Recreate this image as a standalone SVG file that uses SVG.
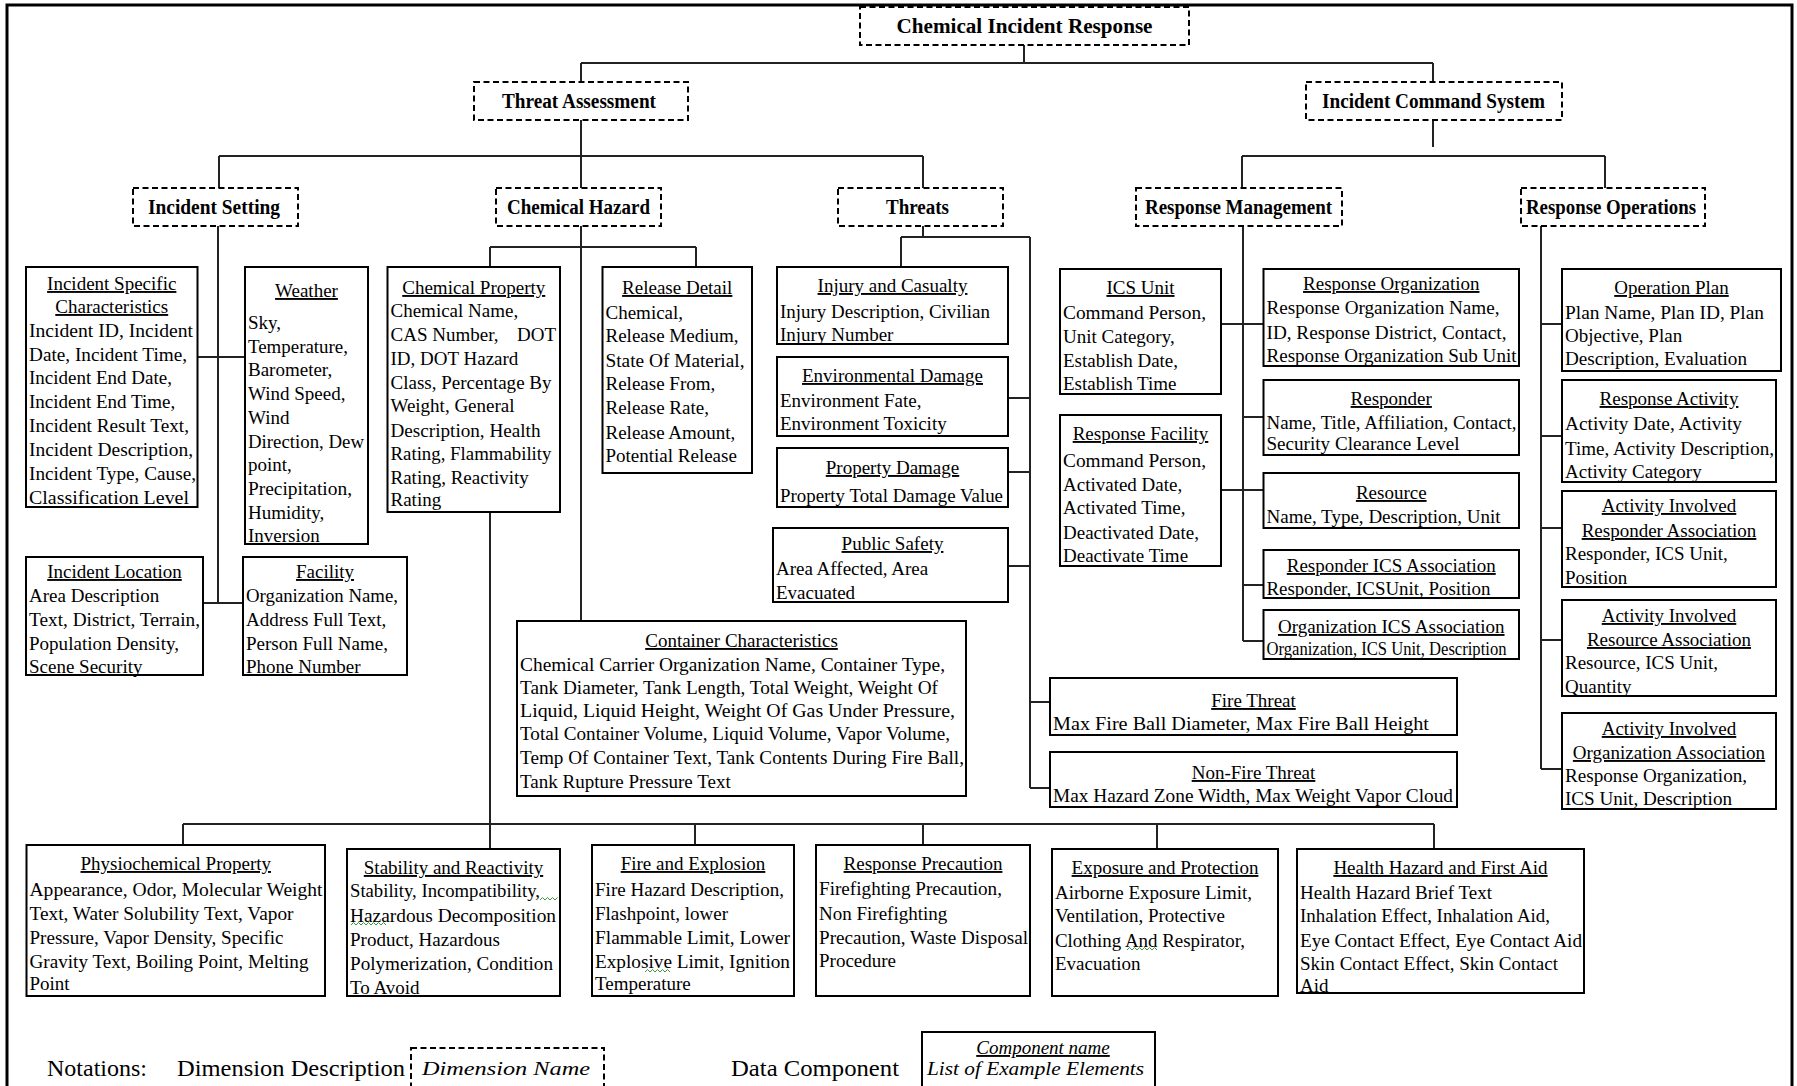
<svg xmlns="http://www.w3.org/2000/svg" width="1797" height="1086" viewBox="0 0 1797 1086">
<style>
text{font-family:"Liberation Serif","Times New Roman",serif;font-size:19px;fill:#000}
.box{fill:#fff;stroke:#000;stroke-width:2}
.dbox{fill:#fff;stroke:#000;stroke-width:2;stroke-dasharray:6 3.5}
.dt{font-weight:bold;text-anchor:middle;font-size:20px}
.h{text-anchor:middle;text-decoration:underline}
.lg{font-size:24px}
.it{font-style:italic}
.con{fill:none;stroke:#222;stroke-width:2}
.sq{fill:none;stroke:#3a9a3a;stroke-width:1}
</style>
<rect x="0" y="0" width="1797" height="1086" fill="#fff"/>
<rect x="7" y="5" width="1785" height="1100" fill="none" stroke="#000" stroke-width="3"/>

<g id="connectors">
<path class="con" d="M1024,45V63M581,63H1433M581,63V82M1433,63V82
M581,120V156M219,156H923M219,156V188M581,156V188M923,156V188
M1433,120V147M1242,156H1605M1242,156V188M1605,156V188
M218,226V603M197.5,357H245M203,603H243
M581,226V621M490,247H696M490,247V267M696,247V267
M490,512V849M183,824H1434M183,824V845M695,824V845M923,824V845M1157,824V849M1434,824V849
M923,226V237M901,237H1030M901,237V267M1030,237V788M1008,398H1030M1008,472H1030M1008,566H1030M1030,702H1050M1030,788H1050
M1243,226V641M1221,324H1263.5M1243,417H1263.5M1221,490H1263.5M1243,585H1264M1243,641H1264
M1541,226V769M1541,324H1562M1541,436H1562M1541,528H1562M1541,640H1562M1541,769H1562"/>
</g>

<g id="chemical-incident-response"><rect class="dbox" x="860" y="7" width="329" height="38"/><text class="dt" x="1024.5" y="33" textLength="256" lengthAdjust="spacingAndGlyphs">Chemical Incident Response</text></g>
<g id="threat-assessment"><rect class="dbox" x="474" y="82" width="214" height="38"/><text class="dt" x="579" y="108" textLength="154" lengthAdjust="spacingAndGlyphs">Threat Assessment</text></g>
<g id="incident-command-system"><rect class="dbox" x="1306" y="82" width="256" height="38"/><text class="dt" x="1433.5" y="108" textLength="223" lengthAdjust="spacingAndGlyphs">Incident Command System</text></g>
<g id="incident-setting"><rect class="dbox" x="133" y="188" width="165" height="38"/><text class="dt" x="214" y="214" textLength="132" lengthAdjust="spacingAndGlyphs">Incident Setting</text></g>
<g id="chemical-hazard"><rect class="dbox" x="496" y="188" width="165" height="38"/><text class="dt" x="578.5" y="214" textLength="143" lengthAdjust="spacingAndGlyphs">Chemical Hazard</text></g>
<g id="threats"><rect class="dbox" x="838" y="188" width="165" height="38"/><text class="dt" x="917.5" y="214" textLength="63" lengthAdjust="spacingAndGlyphs">Threats</text></g>
<g id="response-management"><rect class="dbox" x="1136" y="188" width="206" height="38"/><text class="dt" x="1238.5" y="214" textLength="187" lengthAdjust="spacingAndGlyphs">Response Management</text></g>
<g id="response-operations"><rect class="dbox" x="1521" y="188" width="184" height="38"/><text class="dt" x="1611" y="214" textLength="170" lengthAdjust="spacingAndGlyphs">Response Operations</text></g>

<g id="incident-specific-characteristics"><rect class="box" x="26" y="267" width="171.5" height="240"/>
<text class="h" x="111.75" y="290">Incident Specific</text><text class="h" x="111.75" y="313">Characteristics</text>
<text x="29" y="337" textLength="164" lengthAdjust="spacingAndGlyphs">Incident ID, Incident</text><text x="29" y="361" textLength="158" lengthAdjust="spacingAndGlyphs">Date, Incident Time,</text><text x="29" y="384">Incident End Date,</text><text x="29" y="408">Incident End Time,</text><text x="29" y="432" textLength="160" lengthAdjust="spacingAndGlyphs">Incident Result Text,</text><text x="29" y="456" textLength="164" lengthAdjust="spacingAndGlyphs">Incident Description,</text><text x="29" y="480" textLength="167" lengthAdjust="spacingAndGlyphs">Incident Type, Cause,</text><text x="29" y="504" textLength="160" lengthAdjust="spacingAndGlyphs">Classification Level</text></g>

<g id="weather"><rect class="box" x="245" y="267" width="123" height="277"/>
<text class="h" x="306.5" y="297">Weather</text>
<text x="248" y="329">Sky,</text><text x="248" y="352.7" textLength="100" lengthAdjust="spacingAndGlyphs">Temperature,</text><text x="248" y="376.4">Barometer,</text><text x="248" y="400">Wind Speed,</text><text x="248" y="423.8">Wind</text><text x="248" y="447.5" textLength="116" lengthAdjust="spacingAndGlyphs">Direction, Dew</text><text x="248" y="471">point,</text><text x="248" y="495" textLength="104" lengthAdjust="spacingAndGlyphs">Precipitation,</text><text x="248" y="518.6">Humidity,</text><text x="248" y="542">Inversion</text></g>

<g id="incident-location"><rect class="box" x="26" y="557" width="177" height="118"/>
<text class="h" x="114.5" y="578">Incident Location</text>
<text x="29" y="602">Area Description</text><text x="29" y="626" textLength="171" lengthAdjust="spacingAndGlyphs">Text, District, Terrain,</text><text x="29" y="650" textLength="150" lengthAdjust="spacingAndGlyphs">Population Density,</text><text x="29" y="673">Scene Security</text></g>

<g id="facility"><rect class="box" x="243" y="557" width="164" height="118"/>
<text class="h" x="325" y="578">Facility</text>
<text x="246" y="602" textLength="152" lengthAdjust="spacingAndGlyphs">Organization Name,</text><text x="246" y="626">Address Full Text,</text><text x="246" y="650">Person Full Name,</text><text x="246" y="673">Phone Number</text></g>

<g id="chemical-property"><rect class="box" x="387.5" y="267" width="172.5" height="245"/>
<text class="h" x="473.75" y="294">Chemical Property</text>
<text x="390.5" y="317">Chemical Name,</text><text x="390.5" y="341">CAS Number,<tspan x="517">DOT</tspan></text><text x="390.5" y="365">ID, DOT Hazard</text><text x="390.5" y="389" textLength="161" lengthAdjust="spacingAndGlyphs">Class, Percentage By</text><text x="390.5" y="412">Weight, General</text><text x="390.5" y="437" textLength="150" lengthAdjust="spacingAndGlyphs">Description, Health</text><text x="390.5" y="460" textLength="161" lengthAdjust="spacingAndGlyphs">Rating, Flammability</text><text x="390.5" y="484">Rating, Reactivity</text><text x="390.5" y="506">Rating</text></g>

<g id="release-detail"><rect class="box" x="602.5" y="267" width="149.5" height="206"/>
<text class="h" x="677.25" y="294">Release Detail</text>
<text x="605.5" y="319">Chemical,</text><text x="605.5" y="342">Release Medium,</text><text x="605.5" y="367" textLength="139" lengthAdjust="spacingAndGlyphs">State Of Material,</text><text x="605.5" y="390">Release From,</text><text x="605.5" y="414">Release Rate,</text><text x="605.5" y="439">Release Amount,</text><text x="605.5" y="462">Potential Release</text></g>

<g id="injury-and-casualty"><rect class="box" x="777" y="267" width="231" height="77"/>
<text class="h" x="892.5" y="292">Injury and Casualty</text>
<text x="780" y="318" textLength="210" lengthAdjust="spacingAndGlyphs">Injury Description, Civilian</text><text x="780" y="341">Injury Number</text></g>

<g id="environmental-damage"><rect class="box" x="777" y="357" width="231" height="79"/>
<text class="h" x="892.5" y="382">Environmental Damage</text>
<text x="780" y="407">Environment Fate,</text><text x="780" y="430">Environment Toxicity</text></g>

<g id="property-damage"><rect class="box" x="777" y="448" width="231" height="59"/>
<text class="h" x="892.5" y="474">Property Damage</text>
<text x="780" y="502" textLength="223" lengthAdjust="spacingAndGlyphs">Property Total Damage Value</text></g>

<g id="public-safety"><rect class="box" x="773" y="528" width="235" height="74"/>
<text class="h" x="892.5" y="550">Public Safety</text>
<text x="776" y="575">Area Affected, Area</text><text x="776" y="599">Evacuated</text></g>

<g id="container-characteristics"><rect class="box" x="517" y="621" width="449" height="175"/>
<text class="h" x="741.5" y="647">Container Characteristics</text>
<text x="520" y="671" textLength="425" lengthAdjust="spacingAndGlyphs">Chemical Carrier Organization Name, Container Type,</text>
<text x="520" y="694" textLength="418" lengthAdjust="spacingAndGlyphs">Tank Diameter, Tank Length, Total Weight, Weight Of</text>
<text x="520" y="717" textLength="435" lengthAdjust="spacingAndGlyphs">Liquid, Liquid Height, Weight Of Gas Under Pressure,</text>
<text x="520" y="740" textLength="430" lengthAdjust="spacingAndGlyphs">Total Container Volume, Liquid Volume, Vapor Volume,</text>
<text x="520" y="764" textLength="444" lengthAdjust="spacingAndGlyphs">Temp Of Container Text, Tank Contents During Fire Ball,</text>
<text x="520" y="788">Tank Rupture Pressure Text</text></g>

<g id="fire-threat"><rect class="box" x="1050" y="678" width="407" height="57"/>
<text class="h" x="1253.5" y="707">Fire Threat</text>
<text x="1053" y="730" textLength="376" lengthAdjust="spacingAndGlyphs">Max Fire Ball Diameter, Max Fire Ball Height</text></g>

<g id="non-fire-threat"><rect class="box" x="1050" y="752" width="407" height="55"/>
<text class="h" x="1253.5" y="779">Non-Fire Threat</text>
<text x="1053" y="802" textLength="400" lengthAdjust="spacingAndGlyphs">Max Hazard Zone Width, Max Weight Vapor Cloud</text></g>

<g id="ics-unit"><rect class="box" x="1060" y="269" width="161" height="125"/>
<text class="h" x="1140.5" y="294">ICS Unit</text>
<text x="1063" y="319" textLength="143" lengthAdjust="spacingAndGlyphs">Command Person,</text><text x="1063" y="343">Unit Category,</text><text x="1063" y="367">Establish Date,</text><text x="1063" y="390">Establish Time</text></g>

<g id="response-facility"><rect class="box" x="1060" y="415" width="161" height="151"/>
<text class="h" x="1140.5" y="440">Response Facility</text>
<text x="1063" y="467" textLength="143" lengthAdjust="spacingAndGlyphs">Command Person,</text><text x="1063" y="491">Activated Date,</text><text x="1063" y="514">Activated Time,</text><text x="1063" y="539" textLength="136" lengthAdjust="spacingAndGlyphs">Deactivated Date,</text><text x="1063" y="562">Deactivate Time</text></g>

<g id="response-organization"><rect class="box" x="1263.5" y="269" width="255.5" height="97"/>
<text class="h" x="1391.25" y="290">Response Organization</text>
<text x="1266.5" y="314" textLength="233" lengthAdjust="spacingAndGlyphs">Response Organization Name,</text><text x="1266.5" y="339" textLength="240" lengthAdjust="spacingAndGlyphs">ID, Response District, Contact,</text><text x="1266.5" y="362" textLength="250" lengthAdjust="spacingAndGlyphs">Response Organization Sub Unit</text></g>

<g id="responder"><rect class="box" x="1263.5" y="380" width="255.5" height="75"/>
<text class="h" x="1391.25" y="405">Responder</text>
<text x="1266.5" y="429" textLength="250" lengthAdjust="spacingAndGlyphs">Name, Title, Affiliation, Contact,</text><text x="1266.5" y="450" textLength="193" lengthAdjust="spacingAndGlyphs">Security Clearance Level</text></g>

<g id="resource"><rect class="box" x="1263.5" y="473" width="255.5" height="55"/>
<text class="h" x="1391.25" y="499">Resource</text>
<text x="1266.5" y="523" textLength="234" lengthAdjust="spacingAndGlyphs">Name, Type, Description, Unit</text></g>

<g id="responder-ics-association"><rect class="box" x="1263.5" y="550" width="255.5" height="48"/>
<text class="h" x="1391.25" y="572">Responder ICS Association</text>
<text x="1266.5" y="595" textLength="224" lengthAdjust="spacingAndGlyphs">Responder, ICSUnit, Position</text></g>

<g id="organization-ics-association"><rect class="box" x="1263.5" y="610" width="255.5" height="49"/>
<text class="h" x="1391.25" y="633">Organization ICS Association</text>
<text x="1266.5" y="655" textLength="240" lengthAdjust="spacingAndGlyphs">Organization, ICS Unit, Description</text></g>

<g id="operation-plan"><rect class="box" x="1562" y="269" width="219" height="102"/>
<text class="h" x="1671.5" y="294">Operation Plan</text>
<text x="1565" y="319" textLength="199" lengthAdjust="spacingAndGlyphs">Plan Name, Plan ID, Plan</text><text x="1565" y="342">Objective, Plan</text><text x="1565" y="365" textLength="182" lengthAdjust="spacingAndGlyphs">Description, Evaluation</text></g>

<g id="response-activity"><rect class="box" x="1562" y="380" width="214" height="102"/>
<text class="h" x="1669" y="405">Response Activity</text>
<text x="1565" y="430" textLength="177" lengthAdjust="spacingAndGlyphs">Activity Date, Activity</text><text x="1565" y="455" textLength="209" lengthAdjust="spacingAndGlyphs">Time, Activity Description,</text><text x="1565" y="478">Activity Category</text></g>

<g id="activity-involved-responder-association"><rect class="box" x="1562" y="491" width="214" height="96"/>
<text class="h" x="1669" y="512">Activity Involved</text><text class="h" x="1669" y="537">Responder Association</text>
<text x="1565" y="560">Responder, ICS Unit,</text><text x="1565" y="584">Position</text></g>

<g id="activity-involved-resource-association"><rect class="box" x="1562" y="600" width="214" height="96"/>
<text class="h" x="1669" y="622">Activity Involved</text><text class="h" x="1669" y="646">Resource Association</text>
<text x="1565" y="669">Resource, ICS Unit,</text><text x="1565" y="693">Quantity</text></g>

<g id="activity-involved-organization-association"><rect class="box" x="1562" y="713" width="214" height="96"/>
<text class="h" x="1669" y="735">Activity Involved</text><text class="h" x="1669" y="759">Organization Association</text>
<text x="1565" y="782" textLength="182" lengthAdjust="spacingAndGlyphs">Response Organization,</text><text x="1565" y="805" textLength="167" lengthAdjust="spacingAndGlyphs">ICS Unit, Description</text></g>

<g id="physiochemical-property"><rect class="box" x="26.5" y="845" width="298.5" height="151"/>
<text class="h" x="175.75" y="870">Physiochemical Property</text>
<text x="29.5" y="896" textLength="293" lengthAdjust="spacingAndGlyphs">Appearance, Odor, Molecular Weight</text><text x="29.5" y="920" textLength="264" lengthAdjust="spacingAndGlyphs">Text, Water Solubility Text, Vapor</text><text x="29.5" y="944" textLength="254" lengthAdjust="spacingAndGlyphs">Pressure, Vapor Density, Specific</text><text x="29.5" y="968" textLength="279" lengthAdjust="spacingAndGlyphs">Gravity Text, Boiling Point, Melting</text><text x="29.5" y="990">Point</text></g>

<g id="stability-and-reactivity"><rect class="box" x="347" y="849" width="213" height="147"/>
<text class="h" x="453.5" y="874">Stability and Reactivity</text>
<text x="350" y="897" textLength="190" lengthAdjust="spacingAndGlyphs">Stability, Incompatibility,</text><text x="350" y="922" textLength="206" lengthAdjust="spacingAndGlyphs">Hazardous Decomposition</text><text x="350" y="946">Product, Hazardous</text><text x="350" y="970" textLength="203" lengthAdjust="spacingAndGlyphs">Polymerization, Condition</text><text x="350" y="994">To Avoid</text>
<path class="sq" d="M540,900l2.5,-2.5l2.5,2.5l2.5,-2.5l2.5,2.5l2.5,-2.5l2.5,2.5l2.5,-2.5"/>
<path class="sq" d="M351,925l2.5,-2.5l2.5,2.5l2.5,-2.5l2.5,2.5l2.5,-2.5l2.5,2.5l2.5,-2.5l2.5,2.5l2.5,-2.5l2.5,2.5l2.5,-2.5l2.5,2.5l2.5,-2.5l2.5,2.5"/></g>

<g id="fire-and-explosion"><rect class="box" x="592" y="845" width="202" height="151"/>
<text class="h" x="693" y="870">Fire and Explosion</text>
<text x="595" y="896" textLength="189" lengthAdjust="spacingAndGlyphs">Fire Hazard Description,</text><text x="595" y="920">Flashpoint, lower</text><text x="595" y="944" textLength="195" lengthAdjust="spacingAndGlyphs">Flammable Limit, Lower</text><text x="595" y="968" textLength="195" lengthAdjust="spacingAndGlyphs">Explosive Limit, Ignition</text><text x="595" y="990">Temperature</text>
<path class="sq" d="M645,972l2.5,-2.5l2.5,2.5l2.5,-2.5l2.5,2.5l2.5,-2.5l2.5,2.5l2.5,-2.5l2.5,2.5l2.5,-2.5l2.5,2.5"/></g>

<g id="response-precaution"><rect class="box" x="816" y="845" width="214" height="151"/>
<text class="h" x="923" y="870">Response Precaution</text>
<text x="819" y="895" textLength="183" lengthAdjust="spacingAndGlyphs">Firefighting Precaution,</text><text x="819" y="920">Non Firefighting</text><text x="819" y="944" textLength="209" lengthAdjust="spacingAndGlyphs">Precaution, Waste Disposal</text><text x="819" y="967">Procedure</text></g>

<g id="exposure-and-protection"><rect class="box" x="1052" y="849" width="226" height="147"/>
<text class="h" x="1165" y="874">Exposure and Protection</text>
<text x="1055" y="899" textLength="197" lengthAdjust="spacingAndGlyphs">Airborne Exposure Limit,</text><text x="1055" y="922">Ventilation, Protective</text><text x="1055" y="947" textLength="190" lengthAdjust="spacingAndGlyphs">Clothing And Respirator,</text><text x="1055" y="970">Evacuation</text>
<path class="sq" d="M1127,950l2.5,-2.5l2.5,2.5l2.5,-2.5l2.5,2.5l2.5,-2.5l2.5,2.5l2.5,-2.5l2.5,2.5l2.5,-2.5l2.5,2.5l2.5,-2.5l2.5,2.5"/></g>

<g id="health-hazard-and-first-aid"><rect class="box" x="1297" y="849" width="287" height="144"/>
<text class="h" x="1440.5" y="874">Health Hazard and First Aid</text>
<text x="1300" y="899">Health Hazard Brief Text</text><text x="1300" y="922" textLength="250" lengthAdjust="spacingAndGlyphs">Inhalation Effect, Inhalation Aid,</text><text x="1300" y="947" textLength="282" lengthAdjust="spacingAndGlyphs">Eye Contact Effect, Eye Contact Aid</text><text x="1300" y="970" textLength="258" lengthAdjust="spacingAndGlyphs">Skin Contact Effect, Skin Contact</text><text x="1300" y="992">Aid</text></g>

<g id="legend">
<text class="lg" x="47" y="1076">Notations:</text>
<text class="lg" x="177" y="1076" textLength="228" lengthAdjust="spacingAndGlyphs">Dimension Description</text>
<rect class="dbox" x="411" y="1048" width="193" height="60"/>
<text class="it" x="422" y="1075" font-size="21" textLength="168" lengthAdjust="spacingAndGlyphs">Dimension Name</text>
<text class="lg" x="731" y="1076" textLength="168" lengthAdjust="spacingAndGlyphs">Data Component</text>
<rect class="box" x="922" y="1032" width="233" height="70"/>
<text class="it h" x="1043" y="1054" font-size="20">Component name</text>
<text class="it" x="927" y="1075" font-size="20" textLength="217" lengthAdjust="spacingAndGlyphs">List of Example  Elements</text>
</g>
</svg>
